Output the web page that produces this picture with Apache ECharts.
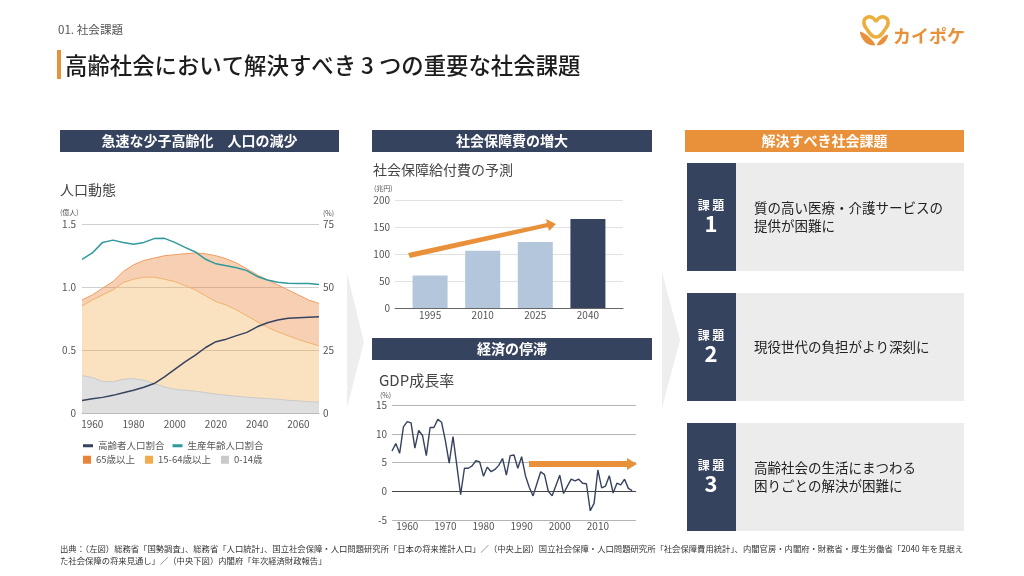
<!DOCTYPE html>
<html>
<head>
<meta charset="utf-8">
<script src="https://cdn.jsdelivr.net/npm/echarts@6/dist/echarts.min.js"></script>
<style>
html, body { margin: 0; padding: 0; background: #fff; }
#chart { width: 1024px; height: 576px; }
</style>
</head>
<body>
<div id="chart"></div>
<script>
var FONT = '"Noto Sans CJK JP", "Noto Sans", sans-serif';
var NAVY = '#36435f';
var ORANGE = '#e8913a';

// left chart, every 5 years
var popYears = ['1955','1960','1965','1970','1975','1980','1985','1990','1995','2000','2005','2010',
  '2015','2020','2025','2030','2035','2040','2045','2050','2055','2060','2065','2070'];
var popChild = [.297,.281,.25,.247,.268,.273,.26,.234,.207,.188,.18,.173,.162,.149,.141,.133,.125,.119,.114,.109,.101,.096,.09,.085];
var popWorking = [.553,.616,.687,.73,.767,.789,.818,.844,.855,.855,.831,.804,.768,.735,.716,.685,.647,.606,.566,.536,.512,.488,.467,.449];
var popElderly = [.047,.04,.053,.066,.088,.114,.132,.152,.186,.213,.253,.293,.334,.364,.367,.372,.372,.371,.377,.372,.364,.353,.34,.336];
var ratioElderly = [5,5.7,6.2,7,8,9,10.2,11.7,14.3,17.3,20.3,23,26,28.3,29.3,30.7,32,34.2,35.8,36.9,37.6,37.8,38,38.2];
var ratioWorking = [61,63.5,67.7,68.6,67.7,67,67.7,69.2,69.3,67.7,65.7,63.9,61,59.2,58.4,57.6,56.5,54.2,52.8,51.9,51.5,51.4,51.4,51];

// top middle chart
var costYears = [1995, 2010, 2025, 2040];
var costValues = [60, 106, 122, 165];

// bottom middle chart, 1956-2019
var gdpYears = [];
for (var y = 1956; y <= 2020; y++) gdpYears.push(String(y));
var gdpValues = [7,8.3,6.6,11.2,12.1,11.9,7.5,10.6,9.7,6.2,11.1,11.1,12.5,12,8.8,4.9,9.5,4.5,-.6,4,4,4.4,5.3,5.1,2.6,4.2,3.4,3.8,4.5,5.7,2.8,6.2,6.3,4,6,2.7,.7,-.8,1.3,3.4,2.9,0,-.8,1,2.8,-.4,.9,2.1,1.8,2.1,1.4,1.3,-3.4,-2.1,3.7,.6,.9,2.7,-.3,1.4,1.1,2.1,.5,.1];

function text(x, y, str, size, color, extra) {
  var style = { text: str, fontSize: size, fill: color, fontFamily: FONT, textVerticalAlign: 'middle' };
  for (var k in extra) style[k] = extra[k];
  return { type: 'text', x: x, y: y, z: 20, style: style };
}
function box(x, y, w, h, color) {
  return { type: 'rect', shape: { x: x, y: y, width: w, height: h }, style: { fill: color }, z: 1, silent: true };
}
function header(x, y, w, label, color) {
  return [box(x, y, w, 22, color),
    text(x + w / 2, y + 11, label, 14, '#fff', { textAlign: 'center', fontWeight: 'bold' })];
}
function card(y, num, lines) {
  return [box(687, y, 277, 108, '#ececec'), box(687, y, 49, 108, NAVY),
    text(711, y + 42, '課 題', 12, '#fff', { textAlign: 'center', fontWeight: 'bold' }),
    text(711, y + 61, num, 22, '#fff', { textAlign: 'center', fontWeight: 'bold' }),
    text(754, y + 54, lines, 13.5, '#222', { lineHeight: 18 })];
}

var shapes = [
  text(58, 30, '01. 社会課題', 11.6, '#555'),
  box(57, 50, 4, 29, ORANGE),
  text(65, 65, '高齢社会において解決すべき 3 つの重要な社会課題', 22.4, '#1c1c1c', { fontWeight: 500 }),
  text(60, 190, '人口動態', 14, '#444'),
  text(373, 170, '社会保障給付費の予測', 14, '#444'),
  text(379, 380, 'GDP成長率', 15, '#444'),
  text(60, 212, '(億人)', 7, '#555'),
  text(323, 213, '(%)', 7, '#555'),
  text(374, 188, '(兆円)', 7, '#555'),
  text(380, 395, '(%)', 7, '#555'),
  // chevrons between columns
  { type: 'polygon', shape: { points: [[347, 273], [364, 342], [347, 408]] }, style: { fill: '#eeeeee' }, z: 0 },
  { type: 'polygon', shape: { points: [[662, 272], [680, 340], [662, 408]] }, style: { fill: '#eeeeee' }, z: 0 },
  // trend arrows
  { type: 'polygon', z: 15, style: { fill: ORANGE },
    shape: { points: [[408, 253], [547, 223], [546, 219], [556, 224], [549, 231], [548, 227], [410, 258]] } },
  { type: 'polygon', z: 15, style: { fill: ORANGE },
    shape: { points: [[529, 461], [627, 461], [627, 458], [637, 464], [627, 470], [627, 467], [529, 467]] } },
  // logo
  { type: 'polygon', z: 10, style: { fill: 'none', stroke: '#ecae3c', lineWidth: 3.5 },
    shape: { smooth: 0.5, points: [[876, 37], [866, 28], [864, 21], [868, 17], [873, 18], [876, 21], [879, 18], [884, 17], [888, 21], [886, 28]] } },
  { type: 'polygon', z: 10, style: { fill: ORANGE },
    shape: { smooth: 0.4, points: [[860, 32], [868, 36], [875, 45], [866, 43]] } },
  { type: 'polygon', z: 10, style: { fill: ORANGE },
    shape: { smooth: 0.4, points: [[888, 35], [882, 38], [877, 45], [884, 43]] } },
  text(893, 36, 'カイポケ', 18, ORANGE, { fontWeight: 'bold' }),
  text(60, 549, '出典：（左図）総務省「国勢調査」、総務省「人口統計」、国立社会保障・人口問題研究所「日本の将来推計人口」／（中央上図）国立社会保障・人口問題研究所「社会保障費用統計」、内閣官房・内閣府・財務省・厚生労働省「2040 年を見据え', 8.33, '#333'),
  text(60, 561, 'た社会保障の将来見通し」／（中央下図）内閣府「年次経済財政報告」', 8.33, '#333')
];
shapes = shapes
  .concat(header(60, 130, 279, '急速な少子高齢化　人口の減少', NAVY))
  .concat(header(372, 130, 280, '社会保障費の増大', NAVY))
  .concat(header(372, 338, 280, '経済の停滞', NAVY))
  .concat(header(685, 130, 279, '解決すべき社会課題', ORANGE))
  .concat(card(163, '1', '質の高い医療・介護サービスの\n提供が困難に'))
  .concat(card(293, '2', '現役世代の負担がより深刻に'))
  .concat(card(423, '3', '高齢社会の生活にまつわる\n困りごとの解決が困難に'));

var tick = { fontFamily: FONT, fontSize: 10, color: '#555' };
var legendText = { fontFamily: FONT, fontSize: 9.5, color: '#555' };
var gridLine = { show: true, lineStyle: { color: '#cfcfcf', width: 1 } };

function band(name, values, line, fill, opacity) {
  return { name: name, type: 'line', stack: 'pop', data: values, symbol: 'none', xAxisIndex: 0, yAxisIndex: 0,
    lineStyle: { color: line, width: 1 }, itemStyle: { color: fill }, areaStyle: { color: fill, opacity: opacity } };
}
function ratio(name, values, color) {
  return { name: name, type: 'line', data: values, symbol: 'none', xAxisIndex: 0, yAxisIndex: 1, z: 5,
    lineStyle: { color: color, width: 1.5 }, itemStyle: { color: color } };
}

var option = {
  animation: false,
  textStyle: { fontFamily: FONT },
  graphic: shapes,
  grid: [
    { left: 82, top: 224, width: 237, height: 189 },
    { left: 395, top: 200, width: 228, height: 108 },
    { left: 392, top: 405, width: 244, height: 115 }
  ],
  legend: [
    { left: 83, top: 441, padding: 0, itemWidth: 10, itemHeight: 3, itemGap: 8, textStyle: legendText, icon: 'rect',
      data: ['高齢者人口割合', '生産年齢人口割合'] },
    { left: 83, top: 455, padding: 0, itemWidth: 8, itemHeight: 8, itemGap: 10, textStyle: legendText, icon: 'rect',
      data: ['65歳以上', '15-64歳以上', '0-14歳'] }
  ],
  xAxis: [
    { type: 'category', gridIndex: 0, data: popYears, boundaryGap: false,
      axisLine: { lineStyle: { color: '#bbb' } }, axisTick: { show: false },
      axisLabel: Object.assign({}, tick, { margin: 6, interval: function (i, v) { return +v % 20 === 0; } }) },
    { type: 'value', gridIndex: 1, min: 1985, max: 2050, splitLine: { show: false },
      axisLine: { lineStyle: { color: '#666' } }, axisTick: { show: false },
      axisLabel: Object.assign({}, tick, { margin: 2, customValues: costYears, formatter: function (v) { return String(v); } }) },
    { type: 'category', gridIndex: 2, data: gdpYears, boundaryGap: false,
      axisLine: { onZero: false, show: false }, axisTick: { show: false },
      axisLabel: Object.assign({}, tick, { margin: 1, interval: function (i, v) { return +v % 10 === 0 && +v < 2020; } }) }
  ],
  yAxis: [
    { type: 'value', gridIndex: 0, min: 0, max: 1.5, interval: .5, splitLine: gridLine,
      axisLine: { show: false }, axisTick: { show: false },
      axisLabel: Object.assign({}, tick, { margin: 6, formatter: function (v) { return v === 0 ? '0' : v.toFixed(1); } }) },
    { type: 'value', gridIndex: 0, position: 'right', min: 0, max: 75, interval: 25, splitLine: { show: false },
      axisLine: { show: false }, axisTick: { show: false },
      axisLabel: Object.assign({}, tick, { margin: 4 }) },
    { type: 'value', gridIndex: 1, min: 0, max: 200, interval: 50, splitLine: { show: true, lineStyle: { color: '#e2e2e2' } },
      axisLine: { show: false }, axisTick: { show: false },
      axisLabel: Object.assign({}, tick, { margin: 5 }) },
    { type: 'value', gridIndex: 2, min: -5, max: 15, interval: 5, splitLine: { show: true, lineStyle: { color: '#b5b5b5' } },
      axisLine: { show: false }, axisTick: { show: false },
      axisLabel: Object.assign({}, tick, { margin: 5 }) }
  ],
  series: [
    band('0-14歳', popChild, '#c9c9c9', '#c9c9cb', .6),
    band('15-64歳以上', popWorking, '#f0b06c', '#f2ab4e', .36),
    band('65歳以上', popElderly, '#ee9b60', '#e9843a', .38),
    ratio('高齢者人口割合', ratioElderly, NAVY),
    ratio('生産年齢人口割合', ratioWorking, '#2f9a9c'),
    { type: 'bar', xAxisIndex: 1, yAxisIndex: 2, barWidth: 35,
      data: costYears.map(function (yr, i) { return [yr, costValues[i]]; }),
      itemStyle: { color: function (p) { return p.dataIndex === costYears.length - 1 ? NAVY : '#b3c6dc'; } } },
    { type: 'line', xAxisIndex: 2, yAxisIndex: 3, data: gdpValues, symbol: 'none',
      lineStyle: { color: NAVY, width: 1.4 },
      markLine: { silent: true, symbol: 'none', label: { show: false }, animation: false,
        lineStyle: { color: '#444', width: 1, type: 'solid' }, data: [{ yAxis: 0 }] } }
  ]
};

var chart = echarts.init(document.getElementById('chart'));
chart.setOption(option);
</script>
</body>
</html>
